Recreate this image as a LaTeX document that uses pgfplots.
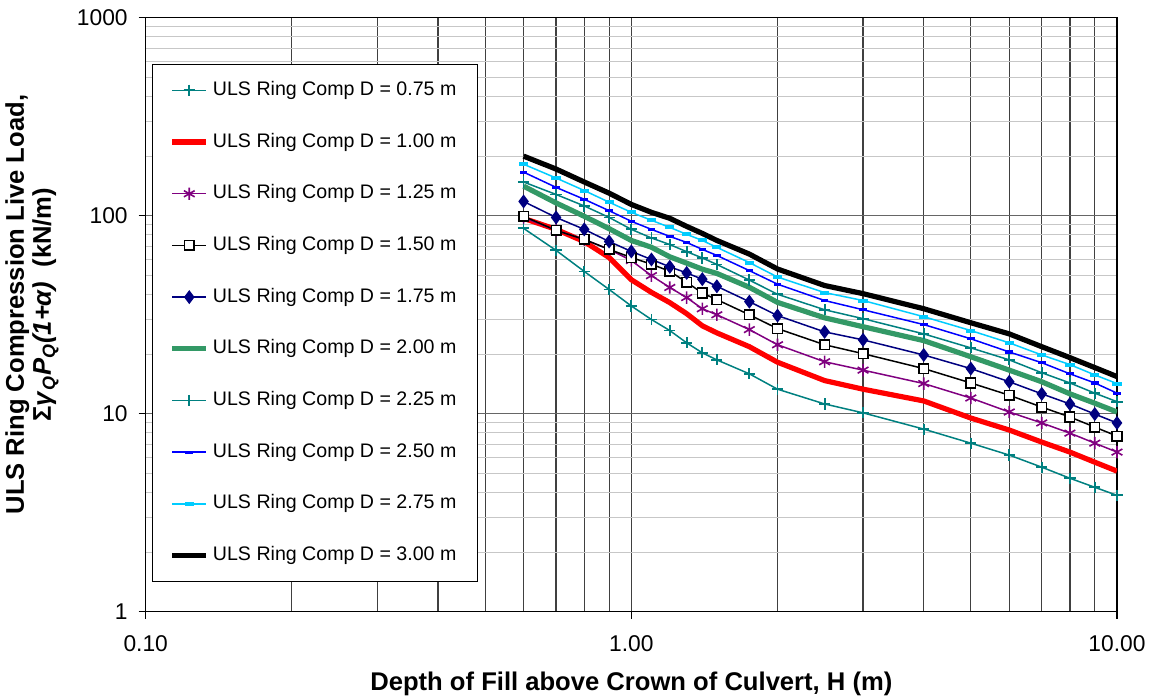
\documentclass[border=0pt]{standalone}
\usepackage{fontspec}
\setmainfont{Liberation Sans}
\usepackage{pgfplots}
\pgfplotsset{compat=1.18}
\definecolor{cteal}{HTML}{008080}
\definecolor{cred}{HTML}{FF0000}
\definecolor{cpurple}{HTML}{800080}
\definecolor{cnavy}{HTML}{000080}
\definecolor{cgreen}{HTML}{339966}
\definecolor{cblue}{HTML}{0000FF}
\definecolor{ccyan}{HTML}{00CCFF}
\pgfplotstableread{
x     a     b     c     d     e     f     g     h     i     j
0.6   86.3  97.0  98.0  99.3  118   141   148   166   182   200
0.7   66.8  85.3  84.3  84.3  98.0  116   128   139   155   172
0.8   52.3  74.0  75.9  75.9  85.3  99.3  112   121   134   148
0.9   42.4  61.5  67.6  67.6  74.1  86.0  98.0  106   117   130
1.0   35.0  47.5  59.4  61.5  66.0  75.0  85.3  93.7  104   114
1.1   29.9  41.0  49.8  56.9  60.1  69.3  77.2  85.3  94.8  104
1.2   26.3  36.4  43.4  52.4  55.2  62.0  71.5  78.6  87.3  97.0
1.3   22.8  32.0  38.6  46.1  51.4  57.6  65.8  73.3  80.5  88.3
1.4   20.3  27.8  33.9  40.7  47.8  53.7  61.2  67.6  75.0  81.4
1.5   18.7  25.6  31.6  37.7  44.0  51.1  56.7  63.0  69.2  75.0
1.75  15.9  21.8  26.6  31.6  36.8  43.5  47.3  52.8  58.0  64.0
2.0   13.3  18.2  22.3  26.9  31.3  36.5  40.1  45.1  49.0  53.8
2.5   11.2  14.7  18.3  22.3  25.9  30.5  33.5  37.3  40.9  44.4
3.0   10.1  13.3  16.6  20.1  23.6  27.5  30.2  33.5  37.3  40.4
4.0   8.36  11.6  14.2  16.9  19.8  23.4  25.3  28.2  30.9  33.9
5.0   7.10  9.51  12.0  14.3  16.9  19.4  21.5  23.9  26.3  28.8
6.0   6.18  8.27  10.2  12.4  14.5  16.6  18.7  20.5  22.8  25.3
7.0   5.37  7.19  8.98  10.8  12.6  14.5  16.1  18.1  19.8  21.8
8.0   4.72  6.40  7.98  9.62  11.2  12.6  14.3  15.9  17.7  19.2
9.0   4.25  5.69  7.10  8.56  9.96  11.3  12.7  14.3  15.7  17.1
10.0  3.87  5.13  6.40  7.71  8.98  10.2  11.5  12.7  14.2  15.4
}\datatable
\begin{document}
\begin{tikzpicture}
\path[use as bounding box] (0,0) rectangle (576.5pt,349pt);
\begin{axis}[
  at={(72.85pt,43.15pt)}, anchor=south west,
  scale only axis, width=485.65pt, height=297pt,
  xmode=log, ymode=log,
  xmin=0.1, xmax=10, ymin=1, ymax=1000,
  xtick={0.1,1,10}, xticklabels={0.10,1.00,10.00},
  ytick={1,10,100,1000}, yticklabels={1,10,100,1000},
  minor xtick={0.2,0.3,0.4,0.5,0.6,0.7,0.8,0.9,2,3,4,5,6,7,8,9},
  minor ytick={2,3,4,5,6,7,8,9,20,30,40,50,60,70,80,90,200,300,400,500,600,700,800,900},
  xmajorgrids, xminorgrids, ymajorgrids, yminorgrids,
  major x grid style={black!75, line width=0.6pt},
  minor x grid style={black!75, line width=0.6pt},
  major y grid style={black!60, line width=0.6pt},
  minor y grid style={black!22, line width=0.6pt},
  axis line style={black, line width=0.7pt},
  tick align=outside, tick pos=left,
  major tick length=3.5pt, minor tick length=0pt,
  tick style={black, line width=0.6pt},
  /pgf/number format/assume math mode=true,
  ticklabel style={font=\fontsize{11.4}{13}\selectfont},
  xticklabel style={yshift=-5pt},
  yticklabel style={xshift=-2pt},
  xlabel={Depth of Fill above Crown of Culvert, H (m)},
  xlabel style={at={(axis description cs:0.5,-0.122)}, anchor=center, font=\bfseries\fontsize{12.8}{14}\selectfont},
  ylabel={ULS Ring Compression Live Load,\\ Σ\textit{γ}\textsubscript{\textit{Q}}\textit{P}\textsubscript{\textit{Q}}\textit{(1+α)}\ \ (kN/m)},
  ylabel style={at={(axis description cs:-0.117,0.517)}, anchor=center, align=center, font=\bfseries\fontsize{12.8}{13.5}\selectfont},
  legend cell align=left,
  legend style={at={(0.0065,0.9225)}, anchor=north west, draw=black, line width=0.6pt, fill=white,
    font=\fontsize{9.8}{11}\selectfont, inner xsep=8.5pt, inner ysep=6pt, row sep=11.85pt,
    nodes={inner sep=2pt, text height=7.5pt, text depth=2.5pt}},
]
\addplot[cteal, line width=0.75pt, mark=+, mark size=2.8pt, mark options={line width=0.9pt}] table[x=x,y=a]{\datatable};
\addlegendentry{ULS Ring Comp D = 0.75 m}
\addplot[cred, line width=2.6pt] table[x=x,y=b]{\datatable};
\addlegendentry{ULS Ring Comp D = 1.00 m}
\addplot[cpurple, line width=0.75pt, mark=asterisk, mark size=3.1pt, mark options={line width=0.8pt}] table[x=x,y=c]{\datatable};
\addlegendentry{ULS Ring Comp D = 1.25 m}
\addplot[black, line width=0.75pt, mark=square*, mark size=2.4pt, mark options={fill=white}] table[x=x,y=d]{\datatable};
\addlegendentry{ULS Ring Comp D = 1.50 m}
\addplot[cnavy, line width=0.75pt, mark=diamond*, mark size=2.9pt] table[x=x,y=e]{\datatable};
\addlegendentry{ULS Ring Comp D = 1.75 m}
\addplot[cgreen, line width=2.6pt] table[x=x,y=f]{\datatable};
\addlegendentry{ULS Ring Comp D = 2.00 m}
\addplot[cteal, line width=0.75pt, mark=+, mark size=2.8pt, mark options={line width=0.9pt}] table[x=x,y=g]{\datatable};
\addlegendentry{ULS Ring Comp D = 2.25 m}
\addplot[cblue, line width=0.75pt, mark=-, mark size=1.9pt, mark options={line width=1.6pt}] table[x=x,y=h]{\datatable};
\addlegendentry{ULS Ring Comp D = 2.50 m}
\addplot[ccyan, line width=0.75pt, mark=-, mark size=2.3pt, mark options={line width=2pt}] table[x=x,y=i]{\datatable};
\addlegendentry{ULS Ring Comp D = 2.75 m}
\addplot[black, line width=2.6pt] table[x=x,y=j]{\datatable};
\addlegendentry{ULS Ring Comp D = 3.00 m}
\end{axis}
\end{tikzpicture}
\end{document}
